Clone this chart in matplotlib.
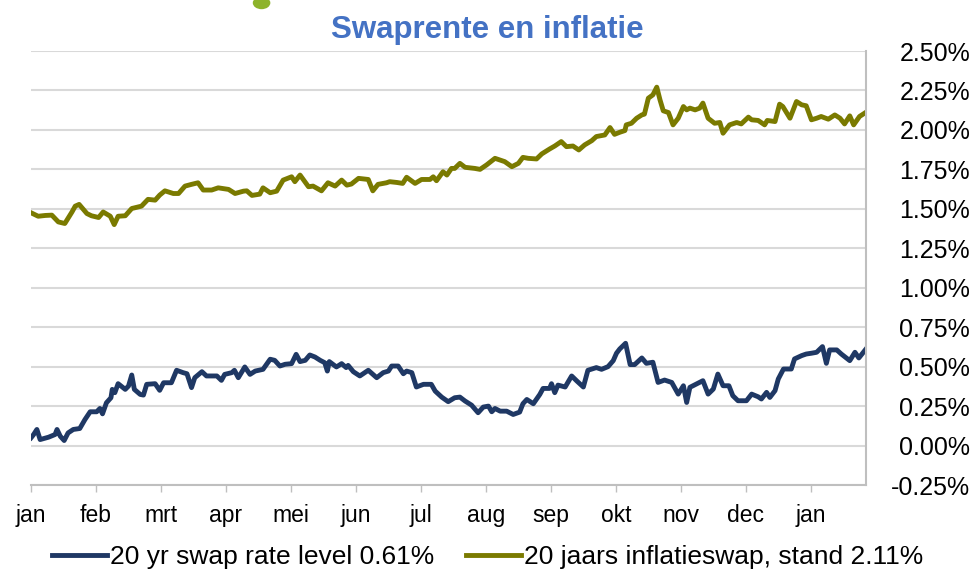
import numpy as np
import matplotlib
matplotlib.use("Agg")
import matplotlib.pyplot as plt
from matplotlib.patches import Ellipse
from matplotlib.ticker import FuncFormatter, MultipleLocator

plt.rcParams['font.family'] = ['Liberation Sans', 'DejaVu Sans']

# maanden als x-as labels
months = ['jan', 'feb', 'mrt', 'apr', 'mei', 'jun', 'jul', 'aug', 'sep', 'okt', 'nov', 'dec', 'jan']

# 20 jaars swaprente (x in maanden vanaf begin januari, waarde in %)
swap_x = [0.00, 0.04, 0.09, 0.14, 0.27, 0.37, 0.40, 0.45, 0.51, 0.57, 0.65, 0.75, 0.83, 0.91,
          1.01, 1.06, 1.10, 1.16, 1.23, 1.25, 1.29, 1.34, 1.45, 1.50, 1.55, 1.59, 1.68, 1.73,
          1.78, 1.91, 1.98, 2.04, 2.16, 2.24, 2.34, 2.40, 2.47, 2.52, 2.63, 2.70, 2.86, 2.93,
          2.98, 3.09, 3.13, 3.19, 3.29, 3.37, 3.45, 3.57, 3.68, 3.75, 3.83, 3.91, 4.01, 4.08,
          4.14, 4.22, 4.29, 4.37, 4.45, 4.52, 4.56, 4.59, 4.70, 4.78, 4.85, 4.88, 4.96, 5.06,
          5.19, 5.32, 5.42, 5.50, 5.55, 5.65, 5.73, 5.78, 5.86, 5.93, 6.04, 6.16, 6.22, 6.32,
          6.42, 6.52, 6.60, 6.68, 6.78, 6.88, 6.96, 7.04, 7.09, 7.14, 7.22, 7.32, 7.42, 7.52,
          7.57, 7.63, 7.73, 7.83, 7.88, 7.98, 8.01, 8.06, 8.11, 8.22, 8.32, 8.40, 8.50, 8.57,
          8.70, 8.78, 8.88, 8.96, 9.01, 9.06, 9.15, 9.22, 9.29, 9.40, 9.47, 9.57, 9.65, 9.75,
          9.86, 9.96, 10.04, 10.09, 10.14, 10.22, 10.34, 10.42, 10.50, 10.57, 10.65, 10.74,
          10.80, 10.88, 11.01, 11.09, 11.19, 11.24, 11.32, 11.37, 11.45, 11.50, 11.58, 11.70,
          11.75, 11.86, 11.93, 12.01, 12.09, 12.18, 12.24, 12.29, 12.40, 12.47, 12.60, 12.68,
          12.74, 12.85]
swap_y = [0.049, 0.070, 0.102, 0.038, 0.053, 0.070, 0.102, 0.059, 0.032, 0.080, 0.102, 0.108,
          0.165, 0.214, 0.214, 0.235, 0.201, 0.271, 0.303, 0.356, 0.335, 0.392, 0.356, 0.377,
          0.447, 0.356, 0.324, 0.320, 0.388, 0.392, 0.350, 0.398, 0.398, 0.477, 0.462, 0.455,
          0.367, 0.430, 0.468, 0.441, 0.441, 0.413, 0.451, 0.462, 0.477, 0.430, 0.498, 0.451,
          0.472, 0.483, 0.547, 0.540, 0.504, 0.515, 0.519, 0.578, 0.532, 0.540, 0.574, 0.561,
          0.540, 0.525, 0.472, 0.532, 0.498, 0.519, 0.494, 0.508, 0.468, 0.441, 0.477, 0.430,
          0.462, 0.472, 0.504, 0.504, 0.455, 0.472, 0.462, 0.371, 0.388, 0.388, 0.345, 0.307,
          0.278, 0.303, 0.307, 0.282, 0.256, 0.208, 0.244, 0.250, 0.214, 0.235, 0.218, 0.218,
          0.197, 0.212, 0.265, 0.292, 0.265, 0.324, 0.362, 0.362, 0.392, 0.335, 0.383, 0.371,
          0.441, 0.409, 0.371, 0.477, 0.494, 0.483, 0.500, 0.538, 0.585, 0.612, 0.648, 0.513,
          0.513, 0.555, 0.521, 0.528, 0.400, 0.415, 0.400, 0.326, 0.379, 0.273, 0.369, 0.386,
          0.411, 0.326, 0.358, 0.453, 0.379, 0.379, 0.316, 0.284, 0.284, 0.326, 0.309, 0.295,
          0.337, 0.305, 0.348, 0.422, 0.485, 0.485, 0.549, 0.570, 0.580, 0.585, 0.591, 0.627,
          0.521, 0.606, 0.606, 0.580, 0.538, 0.591, 0.555, 0.612]

# 20 jaars inflatieswap
infl_x = [0.00, 0.11, 0.22, 0.32, 0.42, 0.52, 0.63, 0.68, 0.74, 0.86, 0.93, 1.04, 1.11, 1.22,
          1.28, 1.34, 1.45, 1.55, 1.70, 1.80, 1.91, 1.98, 2.06, 2.19, 2.27, 2.37, 2.47, 2.57,
          2.65, 2.78, 2.88, 3.04, 3.14, 3.27, 3.32, 3.40, 3.52, 3.57, 3.68, 3.78, 3.88, 4.01,
          4.06, 4.14, 4.27, 4.34, 4.47, 4.57, 4.68, 4.78, 4.86, 4.93, 5.04, 5.19, 5.26, 5.34,
          5.47, 5.52, 5.63, 5.72, 5.78, 5.91, 6.01, 6.14, 6.19, 6.24, 6.34, 6.40, 6.47, 6.52,
          6.60, 6.68, 6.83, 6.91, 7.01, 7.14, 7.29, 7.40, 7.50, 7.57, 7.65, 7.78, 7.86, 7.98,
          8.06, 8.16, 8.24, 8.34, 8.43, 8.52, 8.63, 8.70, 8.83, 8.91, 8.98, 9.06, 9.14, 9.16,
          9.24, 9.32, 9.40, 9.44, 9.50, 9.57, 9.63, 9.68, 9.73, 9.81, 9.88, 9.96, 10.04, 10.09,
          10.14, 10.22, 10.29, 10.34, 10.42, 10.52, 10.60, 10.65, 10.75, 10.86, 10.93, 11.04,
          11.09, 11.19, 11.29, 11.33, 11.45, 11.52, 11.57, 11.68, 11.78, 11.86, 11.93, 12.01,
          12.09, 12.16, 12.27, 12.37, 12.45, 12.52, 12.60, 12.66, 12.75, 12.85]
infl_y = [1.475, 1.453, 1.458, 1.460, 1.417, 1.407, 1.480, 1.517, 1.528, 1.470, 1.456, 1.445,
          1.480, 1.453, 1.400, 1.453, 1.456, 1.502, 1.517, 1.560, 1.555, 1.587, 1.614, 1.597,
          1.597, 1.644, 1.655, 1.665, 1.619, 1.619, 1.633, 1.623, 1.597, 1.612, 1.614, 1.585,
          1.593, 1.633, 1.602, 1.612, 1.682, 1.703, 1.672, 1.714, 1.640, 1.644, 1.614, 1.665,
          1.644, 1.682, 1.650, 1.657, 1.693, 1.686, 1.614, 1.655, 1.665, 1.672, 1.667, 1.661,
          1.700, 1.661, 1.686, 1.686, 1.703, 1.678, 1.735, 1.714, 1.756, 1.756, 1.788, 1.763,
          1.756, 1.750, 1.778, 1.820, 1.799, 1.767, 1.788, 1.826, 1.820, 1.816, 1.848, 1.879,
          1.898, 1.926, 1.894, 1.898, 1.873, 1.905, 1.932, 1.958, 1.968, 2.015, 1.972, 1.985,
          1.996, 2.032, 2.042, 2.074, 2.095, 2.100, 2.201, 2.222, 2.271, 2.190, 2.121, 2.110,
          2.032, 2.074, 2.148, 2.127, 2.138, 2.127, 2.138, 2.170, 2.074, 2.042, 2.047, 1.979,
          2.032, 2.047, 2.038, 2.081, 2.064, 2.060, 2.032, 2.060, 2.053, 2.163, 2.148, 2.074,
          2.180, 2.159, 2.153, 2.064, 2.074, 2.085, 2.068, 2.095, 2.074, 2.038, 2.089, 2.032,
          2.085, 2.112]

swap_label = '20 yr swap rate level 0.61%'
infl_label = '20 jaars inflatieswap, stand 2.11%'

fig = plt.figure(figsize=(9.76, 5.75), dpi=100)
ax = fig.add_axes([0.0318, 0.1565, 0.8555, 0.7548])

ax.plot(swap_x, swap_y, color='#1F3864', lw=3.5, label=swap_label, solid_joinstyle='round')
ax.plot(infl_x, infl_y, color='#7A7A00', lw=3.5, label=infl_label, solid_joinstyle='round')

ax.set_xlim(0, 12.85)
ax.set_ylim(-0.25, 2.5)

# as-opmaak
ax.yaxis.tick_right()
ax.yaxis.set_major_locator(MultipleLocator(0.25))
ax.yaxis.set_major_formatter(FuncFormatter(lambda v, p: f'{v:.2f}%'))
ax.tick_params(axis='y', length=0, pad=75, labelsize=18)
for lab in ax.get_yticklabels():
    lab.set_horizontalalignment('right')

ax.set_xticks(np.arange(len(months)))
ax.set_xticklabels(months)
ax.tick_params(axis='x', length=5, width=1, color='#BFBFBF', pad=9, labelsize=16.5)

ax.grid(axis='y', color='#D9D9D9', lw=1.5)
ax.set_axisbelow(True)
for s in ['top', 'left']:
    ax.spines[s].set_visible(False)
for s in ['bottom', 'right']:
    ax.spines[s].set_color('#BFBFBF')
    ax.spines[s].set_linewidth(1.5)

# restje van een afgesneden kop boven de grafiek (groene vlek bovenrand)
fig.patches.append(Ellipse((0.268, 0.995), 0.018, 0.022, transform=fig.transFigure,
                           facecolor='#8DB32B', edgecolor='none'))

fig.text(0.4995, 0.948, 'Swaprente en inflatie', ha='center', va='center',
         fontsize=22.5, fontweight='bold', color='#4472C4')

fig.legend(loc='center', bbox_to_anchor=(0.4995, 0.031), ncol=2, frameon=False,
           fontsize=19, handlelength=2.1, handletextpad=0.1, columnspacing=1.2)

fig.savefig('out.png', dpi=100)
